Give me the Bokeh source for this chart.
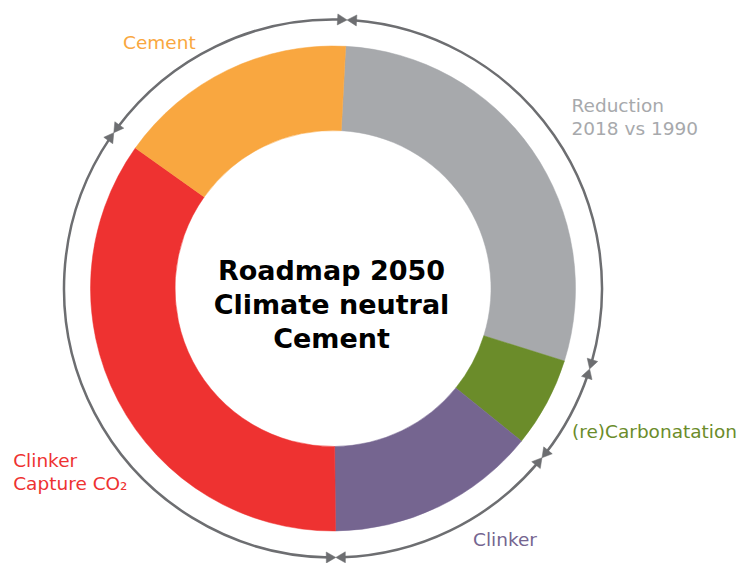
import numpy as np
from bokeh.plotting import figure
from bokeh.models import Range1d, ColumnDataSource
from bokeh.embed import file_html
from bokeh.resources import INLINE
from bokeh.core.properties import value

# ---------------- data ----------------
categories = ["Reduction 2018 vs 1990", "(re)Carbonatation", "Clinker",
              "Clinker Capture CO2", "Cement"]
shares = [29, 6, 14, 35, 16]
colors = ["#a7a9ac", "#6b8c2a", "#756590", "#ee3231", "#f9a740"]
label_lines = [["Reduction", "2018 vs 1990"], ["(re)Carbonatation"], ["Clinker"],
               ["Clinker", "Capture CO\u2082"], ["Cement"]]
center_title = ["Roadmap 2050", "Climate neutral", "Cement"]

# ---------------- layout (page pixel coords) ----------------
PAGE_W, PAGE_H = 750, 563
def Y(py):
    return PAGE_H - py

CX, CY = 332.5, Y(288)
R_OUT, R_IN, R_RING = 242.5, 158.0, 269.0
OFFSET = 3.0  # degrees clockwise from top where first slice starts
ARC_COLOR = "#6d6e71"
ARROW_SIZE = 11
TEXT_SHIFT = 7  # compensation for baseline rendering

# label anchor positions (left, baseline) per line
label_pos = [[(571, 112), (571, 135)], [(571.5, 438)], [(472.5, 546)],
             [(12.7, 467), (12.7, 490)], [(122.5, 49)]]
title_baselines = [277, 311, 345]

p = figure(width=PAGE_W, height=PAGE_H, x_range=Range1d(0, PAGE_W), y_range=Range1d(0, PAGE_H),
           output_backend="svg", toolbar_location=None, min_border=0)
p.axis.visible = False
p.grid.visible = False
p.outline_line_color = None

# ---------------- donut ----------------
fr = np.array(shares, dtype=float) / sum(shares)
cum = np.concatenate([[0.0], np.cumsum(fr)]) * 360.0 + OFFSET  # clockwise from top
std_start = np.radians(90.0 - cum[1:])
std_end = np.radians(90.0 - cum[:-1])
src = ColumnDataSource(dict(start=std_start, end=std_end, color=colors, cat=categories))
p.annular_wedge(x=CX, y=CY, inner_radius=R_IN, outer_radius=R_OUT,
                start_angle="start", end_angle="end", direction="anticlock",
                fill_color="color", line_color="color", line_width=0.5, source=src)

# ---------------- outer arrow ring ----------------
tip = 1.155 * ARROW_SIZE / 2.0
d = tip / R_RING
p.arc(x=CX, y=CY, radius=R_RING, start_angle=list(std_start + d),
      end_angle=list(std_end - d), direction="anticlock",
      line_color=ARC_COLOR, line_width=2.5)

bounds = np.radians(90.0 - cum[:-1])
ax, ay, ang = [], [], []
for a in bounds:
    # arrow pointing clockwise (end of previous segment)
    ax.append(CX + R_RING * np.cos(a + d)); ay.append(CY + R_RING * np.sin(a + d)); ang.append(a - np.pi)
    # arrow pointing counter-clockwise (start of next segment)
    ax.append(CX + R_RING * np.cos(a - d)); ay.append(CY + R_RING * np.sin(a - d)); ang.append(a)
p.scatter(x=ax, y=ay, angle=ang, marker="triangle", size=ARROW_SIZE,
          fill_color=ARC_COLOR, line_color=ARC_COLOR, line_width=0.5)

# ---------------- labels ----------------
tx, ty, tt, tc = [], [], [], []
for lines, poss, col in zip(label_lines, label_pos, colors):
    for line, (px, py) in zip(lines, poss):
        tx.append(px); ty.append(Y(py - TEXT_SHIFT)); tt.append(line); tc.append(col)
p.text(x=tx, y=ty, text=tt, text_color=tc, text_font=value("DejaVu Sans"),
       text_font_size="18.5px", text_align="left", text_baseline="alphabetic")

p.text(x=[331] * 3, y=[Y(b - TEXT_SHIFT) for b in title_baselines], text=center_title,
       text_color="#000000", text_font=value("DejaVu Sans"), text_font_style="bold",
       text_font_size="27px", text_align="center", text_baseline="alphabetic")

open("out.html", "w").write(file_html(p, INLINE))
